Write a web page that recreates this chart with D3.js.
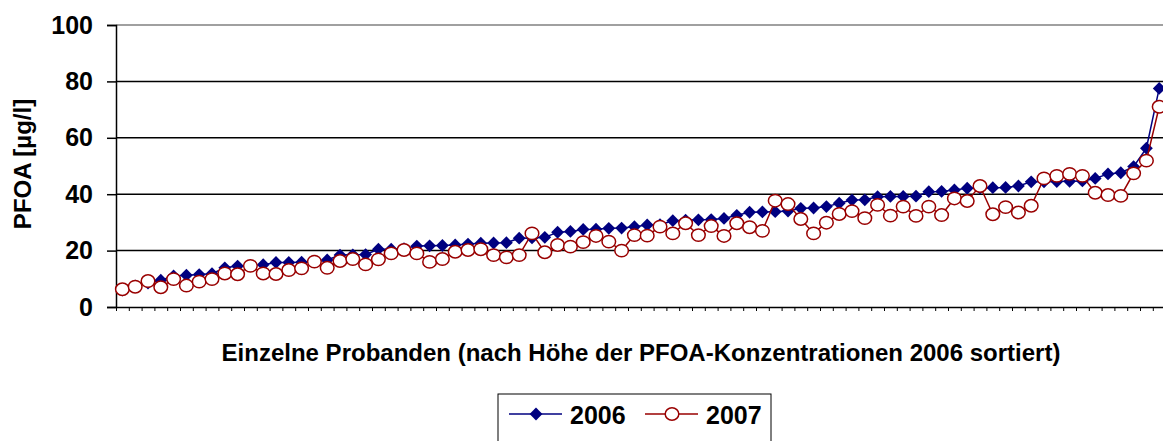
<!DOCTYPE html>
<html lang="de">
<head>
  <meta charset="UTF-8">
  <title>PFOA 2006 / 2007</title>
  <script src="https://d3js.org/d3.v7.min.js"></script>
  <style>
    body {
      margin: 0;
      background: white;
      font-family: "Liberation Sans", Arial, sans-serif;
    }
    svg {
      display: block;
    }
  </style>
</head>
<body>
<svg width="1163" height="441"></svg>

<script>
  // values per subject, sorted by the 2006 concentration
  const v2006 = [
    6.0, 7.5, 8.5, 9.5, 11.0, 11.3, 11.5, 11.8, 13.9, 14.5, 14.7, 15.0,
    15.8, 15.8, 15.9, 16.0, 16.7, 18.4, 18.5, 18.6, 20.5, 20.5, 20.7, 21.6,
    21.7, 21.8, 22.0, 22.3, 22.6, 22.7, 22.8, 24.4, 24.5, 24.7, 26.5, 26.8,
    27.5, 27.6, 27.9, 28.0, 28.5, 29.1, 29.2, 30.6, 30.8, 30.9, 31.0, 31.4,
    32.5, 33.6, 33.7, 33.8, 34.0, 35.0, 35.1, 35.6, 36.8, 37.9, 38.0, 39.1,
    39.2, 39.2, 39.3, 40.9, 41.0, 41.5, 42.1, 42.2, 42.3, 42.4, 42.9, 44.4,
    44.4, 44.5, 44.6, 44.7, 45.6, 47.2, 47.6, 49.8, 56.3, 77.5
  ];
  const v2007 = [
    6.3, 7.2, 9.2, 7.0, 9.9, 7.6, 9.0, 9.9, 11.9, 11.6, 14.6, 11.9,
    11.7, 13.1, 13.7, 16.1, 13.9, 16.3, 17.0, 15.1, 16.9, 19.0, 20.2, 19.0,
    16.0, 17.0, 19.6, 20.2, 20.5, 18.4, 17.6, 18.4, 26.1, 19.4, 22.0, 21.4,
    23.0, 25.2, 23.2, 20.0, 25.5, 25.3, 28.5, 26.1, 29.7, 25.5, 28.7, 25.2,
    29.7, 28.3, 27.0, 37.7, 36.5, 31.2, 26.1, 29.9, 33.0, 34.0, 31.5, 36.2,
    32.4, 35.6, 32.3, 35.6, 32.6, 38.5, 37.6, 42.9, 32.9, 35.4, 33.5, 35.9,
    45.6, 46.5, 47.2, 46.5, 40.5, 39.7, 39.4, 47.4, 51.9, 71.0
  ];
  const yTicks = [0, 20, 40, 60, 80, 100];
  const seriesNames = ["2006", "2007"];
  const yTitle = "PFOA [µg/l]";
  const xTitle = "Einzelne Probanden (nach Höhe der PFOA-Konzentrationen 2006 sortiert)";

  const n = v2006.length;
  const plotLeft = 116, plotRight = 1165.6, plotTop = 25, plotBottom = 307;
  const navy = "#000080", red = "#990000";
  const font = "'Liberation Sans', Arial, sans-serif";

  const svg = d3.select("svg");

  const x = d3.scaleLinear().domain([0, n]).range([plotLeft, plotRight]);
  const y = d3.scaleLinear().domain([0, 100]).range([plotBottom, plotTop]);

  // gridlines (top one is the grey plot border)
  svg.append("g")
    .selectAll("line")
    .data(yTicks.filter(d => d > 0))
    .join("line")
    .attr("x1", plotLeft).attr("x2", plotRight)
    .attr("y1", d => y(d)).attr("y2", d => y(d))
    .attr("stroke", d => d === 100 ? "#808080" : "#000")
    .attr("stroke-width", 1.5);

  // y axis
  const yAxis = svg.append("g")
    .attr("transform", `translate(${plotLeft},0)`)
    .call(d3.axisLeft(y).tickValues(yTicks).tickSize(9).tickPadding(14));
  yAxis.select(".domain").attr("stroke", "#000").attr("stroke-width", 1.5);
  yAxis.selectAll(".tick line").attr("stroke", "#000").attr("stroke-width", 1.5);
  yAxis.selectAll("text")
    .attr("font-family", font)
    .attr("font-weight", "bold")
    .attr("font-size", 25)
    .attr("fill", "#000");

  // x axis with ticks between categories
  const xAxis = svg.append("g")
    .attr("transform", `translate(0,${plotBottom})`)
    .call(d3.axisBottom(x).tickValues(d3.range(0, n + 1)).tickSize(4).tickSizeOuter(0).tickFormat(""));
  xAxis.select(".domain").attr("stroke", "#000").attr("stroke-width", 1.5);
  xAxis.selectAll(".tick line").attr("stroke", "#000");

  const cx = i => x(i + 0.5);

  // 2006 series
  svg.append("path")
    .datum(v2006)
    .attr("fill", "none")
    .attr("stroke", navy)
    .attr("stroke-width", 1.5)
    .attr("d", d3.line().x((d, i) => cx(i)).y(d => y(d)));

  const diamond = d3.symbol().type(d3.symbolSquare).size(82);
  svg.append("g")
    .selectAll("path")
    .data(v2006)
    .join("path")
    .attr("d", diamond)
    .attr("transform", (d, i) => `translate(${cx(i)},${y(d)}) rotate(45)`)
    .attr("fill", navy);

  // 2007 series
  svg.append("path")
    .datum(v2007)
    .attr("fill", "none")
    .attr("stroke", red)
    .attr("stroke-width", 1.5)
    .attr("d", d3.line().x((d, i) => cx(i)).y(d => y(d)));

  svg.append("g")
    .selectAll("ellipse")
    .data(v2007)
    .join("ellipse")
    .attr("cx", (d, i) => cx(i))
    .attr("cy", d => y(d))
    .attr("rx", 6.8)
    .attr("ry", 6.2)
    .attr("fill", "#fff")
    .attr("stroke", red)
    .attr("stroke-width", 1.5);

  // axis titles
  svg.append("text")
    .attr("transform", `translate(31,164) rotate(-90)`)
    .attr("text-anchor", "middle")
    .attr("font-family", font)
    .attr("font-weight", "bold")
    .attr("font-size", 24)
    .text(yTitle);

  svg.append("text")
    .attr("x", 641)
    .attr("y", 361)
    .attr("text-anchor", "middle")
    .attr("font-family", font)
    .attr("font-weight", "bold")
    .attr("font-size", 24)
    .text(xTitle);

  // legend
  const legend = svg.append("g");
  legend.append("rect")
    .attr("x", 498).attr("y", 394)
    .attr("width", 273).attr("height", 60)
    .attr("fill", "#fff")
    .attr("stroke", "#000");

  const ly = 414;
  const items = [
    { name: seriesNames[0], color: navy, x0: 509 },
    { name: seriesNames[1], color: red, x0: 645 }
  ];
  items.forEach((it, k) => {
    legend.append("line")
      .attr("x1", it.x0).attr("x2", it.x0 + 53)
      .attr("y1", ly).attr("y2", ly)
      .attr("stroke", it.color).attr("stroke-width", 1.5);
    if (k === 0) {
      legend.append("path")
        .attr("d", diamond)
        .attr("transform", `translate(${it.x0 + 27},${ly}) rotate(45)`)
        .attr("fill", navy);
    } else {
      legend.append("ellipse")
        .attr("cx", it.x0 + 27).attr("cy", ly)
        .attr("rx", 6.8).attr("ry", 6.2)
        .attr("fill", "#fff")
        .attr("stroke", red).attr("stroke-width", 1.5);
    }
    legend.append("text")
      .attr("x", it.x0 + 61)
      .attr("y", ly + 10)
      .attr("font-family", font)
      .attr("font-weight", "bold")
      .attr("font-size", 25)
      .text(it.name);
  });
</script>
</body>
</html>
